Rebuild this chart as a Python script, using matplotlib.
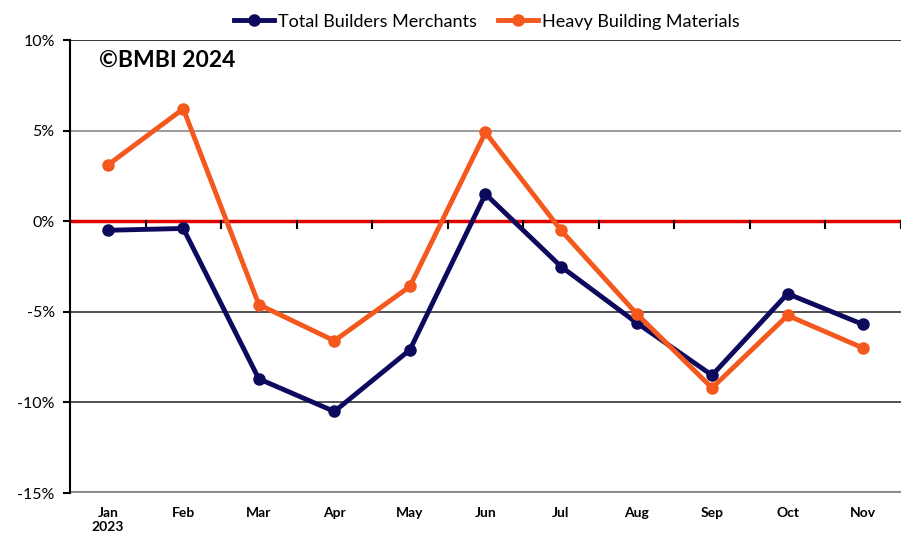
import matplotlib.pyplot as plt
from matplotlib.ticker import FuncFormatter, MultipleLocator

months = ["Jan\n2023", "Feb", "Mar", "Apr", "May", "Jun", "Jul", "Aug", "Sep", "Oct", "Nov"]
total_merchants = [-0.5, -0.4, -8.7, -10.5, -7.1, 1.5, -2.5, -5.6, -8.5, -4.0, -5.7]
heavy_materials = [3.1, 6.2, -4.6, -6.6, -3.6, 4.9, -0.5, -5.1, -9.2, -5.2, -7.0]

navy = "#0d0a5e"
orange = "#f4581c"

plt.rcParams['font.family'] = ['Lato', 'DejaVu Sans']

fig = plt.figure(figsize=(9.1, 5.37), dpi=100)
ax = fig.add_axes([0.0769, 0.0819, 0.9131, 0.8436])

x = list(range(len(months)))

# gridlines
for yv, col in [(10, "black"), (5, "#808080"), (-5, "#222222"), (-10, "#222222")]:
    ax.axhline(yv, color=col, lw=1.1, zorder=1)
ax.axhline(0, color="#e00000", lw=2.5, zorder=2)
ax.axhline(-15, color="#8c8c8c", lw=3, zorder=2)

ax.plot(x, total_merchants, color=navy, lw=3.5, marker="o", ms=8,
        label="Total Builders Merchants", zorder=4)
ax.plot(x, heavy_materials, color=orange, lw=3.5, marker="o", ms=8,
        label="Heavy Building Materials", zorder=5)

ax.set_xlim(-0.5, len(months) - 0.5)
ax.set_ylim(-15, 10)
ax.yaxis.set_major_locator(MultipleLocator(5))
ax.yaxis.set_major_formatter(FuncFormatter(lambda v, p: f"{v:.0f}%"))

for s in ["top", "right", "bottom"]:
    ax.spines[s].set_visible(False)
ax.spines["left"].set_linewidth(1.5)

ax.tick_params(axis="y", labelsize=11.5, length=5, width=1.5, pad=6)
ax.set_xticks(x)
ax.set_xticklabels(months, fontsize=10, fontweight="bold", va="top")
ax.tick_params(axis="x", length=0, pad=10)

# category boundary ticks on the zero line
for b in range(1, len(months) + 1):
    ax.plot([b - 0.5, b - 0.5], [0, -0.35], color="black", lw=1.5, zorder=3)

ax.text(0.035, 0.978, "©BMBI 2024", transform=ax.transAxes, fontsize=16.5,
        fontweight="bold", va="top", ha="left")

fig.legend(loc="upper center", bbox_to_anchor=(0.535, 1.005), ncol=2, frameon=False,
           fontsize=13, handlelength=2.2, columnspacing=1.2, handletextpad=0.2)

fig.savefig("out.png", dpi=100)
